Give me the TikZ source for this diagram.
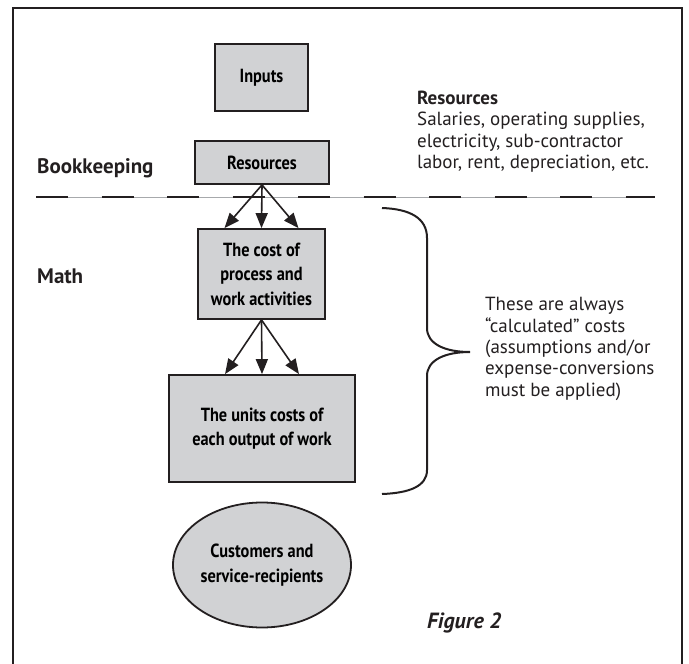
\documentclass[tikz,border=0pt]{standalone}
\usepackage{fontspec}
\setmainfont{PT Sans}
\newfontfamily\boxfont[FakeStretch=0.86]{PT Sans Bold}
\usetikzlibrary{arrows.meta,positioning,shapes.geometric}
\definecolor{boxgray}{HTML}{D1D2D4}
\definecolor{inkdark}{HTML}{231F20}
\definecolor{rulegray}{HTML}{A7A9AC}

\begin{document}
\begin{tikzpicture}[x=1pt,y=-1pt,
  stepbox/.style={draw=inkdark, line width=1.8pt, fill=boxgray, align=center, font=\boxfont\fontsize{19}{24.5}\selectfont, inner sep=0pt},
  flowarrow/.style={-{Triangle[length=15pt,width=12pt]}, line width=1.6pt, draw=inkdark},
  sidelabel/.style={font=\bfseries\fontsize{21}{24}\selectfont, text=inkdark, anchor=base west, inner sep=0pt},
  notetext/.style={font=\fontsize{19}{21.4}\selectfont, text=inkdark, align=left, anchor=west, inner sep=0pt}]
\useasboundingbox (0,0) rectangle (689,664);
\draw[inkdark, line width=2.2pt] (13,664) -- (13,8) -- (682,8) -- (682,664);

% boxes of the flow
\node[stepbox, minimum width=93pt, minimum height=67pt] (inputs) at (261.5,77.5) {Inputs};
\node[stepbox, minimum width=134pt, minimum height=43pt] (resources) at (262,162.5) {Resources};
\node[stepbox, minimum width=127pt, minimum height=90pt] (costproc) at (261.5,274) {The cost of\\process and\\work activities};
\node[stepbox, minimum width=186pt, minimum height=107pt] (unitcost) at (262,428.5) {The units costs of\\each output of work};
\node[stepbox, ellipse, minimum width=178pt, minimum height=125pt] (customers) at (262,565) {Customers and\\service-recipients};

% labels on the left
\node[sidelabel] (bookkeep) at (37,173) {Bookkeeping};
\node[sidelabel] (math) at (37,283) {Math};

% split between bookkeeping and math
\draw[rulegray, line width=0.6pt] (36,197) -- (655,197);
\draw[inkdark, line width=2.2pt, dash pattern=on 32pt off 33.5pt] (36,197) -- (655,197);

% arrows
\foreach \dx in {-37,0,37}{
  \draw[flowarrow] (resources.south) -- ([xshift=\dx pt]costproc.north);
  \draw[flowarrow] (costproc.south) -- ([xshift=\dx pt]unitcost.north);
}

% notes on the right
\node[notetext] (resnote) at (417,131.5) {\textbf{Resources}\\Salaries, operating supplies,\\electricity, sub-contractor\\labor, rent, depreciation, etc.};
\coordinate (bracetop) at (382,208);
\coordinate (bracetip) at (470,352);
\coordinate (bracebot) at (382,494);
\draw[inkdark, line width=2pt] (bracetop) .. controls (410,209) and (427,218) .. (427,238)
  -- (427,328) .. controls (427,344) and (445,352) .. (bracetip)
  .. controls (445,352) and (427,360) .. (427,376)
  -- (427,470) .. controls (427,486) and (410,493) .. (bracebot);
\node[notetext] (calcnote) at (485,349) {These are always\\``calculated'' costs\\(assumptions and/or\\expense-conversions\\must be applied)};

\node[font=\bfseries\itshape\fontsize{22}{24}\selectfont, text=inkdark, anchor=base west, inner sep=0pt] (figlabel) at (427,628) {Figure 2};
\end{tikzpicture}
\end{document}
